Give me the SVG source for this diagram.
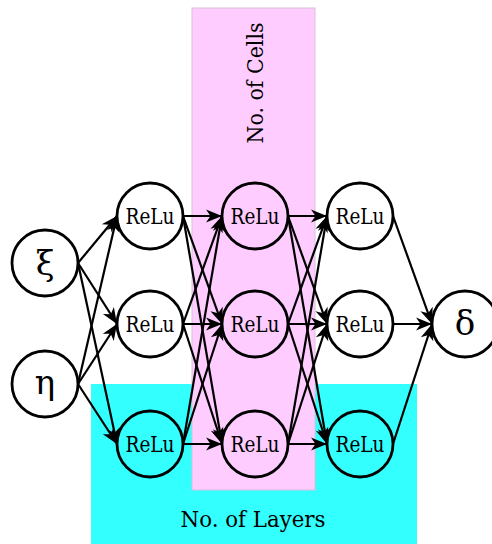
<svg xmlns="http://www.w3.org/2000/svg" width="492" height="544" viewBox="0 0 492 544">
  <style>
    .node circle { fill: none; stroke: #000; stroke-width: 2.8; }
    .node text { font-family: "DejaVu Serif", "Liberation Serif", serif; font-size: 22px; text-anchor: middle; fill: #000; }
    .node text.sym { font-size: 34px; }
    .edges line { stroke: #000; stroke-width: 2.2; marker-end: url(#stealth); }
    .label { font-family: "DejaVu Serif", "Liberation Serif", serif; font-size: 23px; text-anchor: middle; fill: #000; }
  </style>
  <defs>
    <marker id="stealth" markerUnits="userSpaceOnUse" markerWidth="18" markerHeight="16" refX="16" refY="7" orient="auto" overflow="visible">
      <path d="M16,7 L0,0.5 L4.5,7 L0,13.5 Z" fill="#000"/>
    </marker>
  </defs>

  <!-- highlighted regions -->
  <rect x="91" y="384" width="326" height="160" fill="#33ffff"/>
  <rect x="192" y="8" width="123" height="482" fill="#ffccff" stroke="#d8c0d8" stroke-width="1"/>
  <text class="label" transform="translate(263,83) rotate(-90)" textLength="121" lengthAdjust="spacingAndGlyphs">No. of Cells</text>
  <text class="label" x="253" y="527" textLength="145" lengthAdjust="spacingAndGlyphs">No. of Layers</text>

  <g class="edges">
    <!-- inputs to layer 1 -->
    <line x1="78" y1="263" x2="117" y2="216"/>
    <line x1="78" y1="263" x2="117" y2="324"/>
    <line x1="78" y1="263" x2="117" y2="444"/>
    <line x1="78" y1="384" x2="117" y2="216"/>
    <line x1="78" y1="384" x2="117" y2="324"/>
    <line x1="78" y1="384" x2="117" y2="444"/>
    <!-- layer 1 to layer 2 -->
    <line x1="183" y1="216" x2="222" y2="216"/>
    <line x1="183" y1="216" x2="222" y2="324"/>
    <line x1="183" y1="216" x2="222" y2="444"/>
    <line x1="183" y1="324" x2="222" y2="216"/>
    <line x1="183" y1="324" x2="222" y2="324"/>
    <line x1="183" y1="324" x2="222" y2="444"/>
    <line x1="183" y1="444" x2="222" y2="216"/>
    <line x1="183" y1="444" x2="222" y2="324"/>
    <line x1="183" y1="444" x2="222" y2="444"/>
    <!-- layer 2 to layer 3 -->
    <line x1="288" y1="216" x2="327" y2="216"/>
    <line x1="288" y1="216" x2="327" y2="324"/>
    <line x1="288" y1="216" x2="327" y2="444"/>
    <line x1="288" y1="324" x2="327" y2="216"/>
    <line x1="288" y1="324" x2="327" y2="324"/>
    <line x1="288" y1="324" x2="327" y2="444"/>
    <line x1="288" y1="444" x2="327" y2="216"/>
    <line x1="288" y1="444" x2="327" y2="324"/>
    <line x1="288" y1="444" x2="327" y2="444"/>
    <!-- layer 3 to output -->
    <line x1="393" y1="216" x2="432" y2="324"/>
    <line x1="393" y1="324" x2="432" y2="324"/>
    <line x1="393" y1="444" x2="432" y2="324"/>
  </g>

  <g id="in-xi" class="node"><circle cx="45" cy="263" r="33"/><text class="sym" x="45" y="275">ξ</text></g>
  <g id="in-eta" class="node"><circle cx="45" cy="384" r="33"/><text class="sym" x="45" y="394">η</text></g>

  <g id="l1-n1" class="node"><circle cx="150" cy="216" r="33"/><text x="150" y="224" textLength="49" lengthAdjust="spacingAndGlyphs">ReLu</text></g>
  <g id="l1-n2" class="node"><circle cx="150" cy="324" r="33"/><text x="150" y="332" textLength="49" lengthAdjust="spacingAndGlyphs">ReLu</text></g>
  <g id="l1-n3" class="node"><circle cx="150" cy="444" r="33"/><text x="150" y="452" textLength="49" lengthAdjust="spacingAndGlyphs">ReLu</text></g>

  <g id="l2-n1" class="node"><circle cx="255" cy="216" r="33"/><text x="255" y="224" textLength="49" lengthAdjust="spacingAndGlyphs">ReLu</text></g>
  <g id="l2-n2" class="node"><circle cx="255" cy="324" r="33"/><text x="255" y="332" textLength="49" lengthAdjust="spacingAndGlyphs">ReLu</text></g>
  <g id="l2-n3" class="node"><circle cx="255" cy="444" r="33"/><text x="255" y="452" textLength="49" lengthAdjust="spacingAndGlyphs">ReLu</text></g>

  <g id="l3-n1" class="node"><circle cx="360" cy="216" r="33"/><text x="360" y="224" textLength="49" lengthAdjust="spacingAndGlyphs">ReLu</text></g>
  <g id="l3-n2" class="node"><circle cx="360" cy="324" r="33"/><text x="360" y="332" textLength="49" lengthAdjust="spacingAndGlyphs">ReLu</text></g>
  <g id="l3-n3" class="node"><circle cx="360" cy="444" r="33"/><text x="360" y="452" textLength="49" lengthAdjust="spacingAndGlyphs">ReLu</text></g>

  <g id="out-delta" class="node"><circle cx="465" cy="324" r="33"/><text class="sym" x="465" y="335">δ</text></g>
</svg>
